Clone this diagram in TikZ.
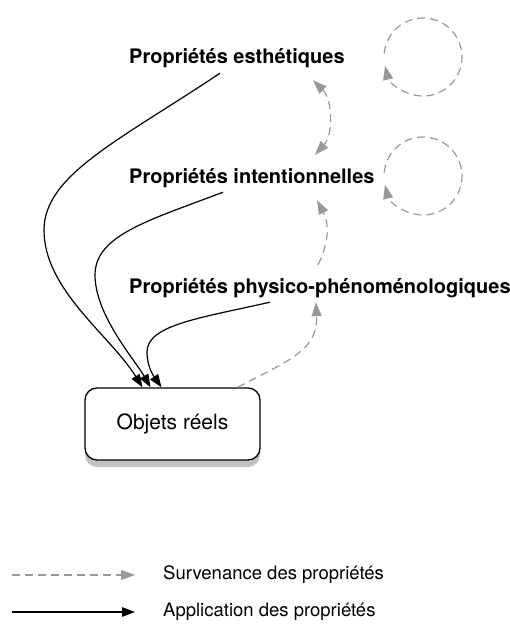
\documentclass[tikz,border=0pt]{standalone}
\usepackage{fontspec}
\setmainfont{TeX Gyre Heros}
\usetikzlibrary{positioning,arrows.meta,shadows}

\begin{document}
\begin{tikzpicture}[x=1pt,y=-1pt,
    propr/.style={anchor=base west,inner sep=2pt,text height=14pt,text depth=4pt,font=\fontsize{20}{22}\selectfont\bfseries},
    legtxt/.style={anchor=west,inner sep=2pt,font=\fontsize{18.5}{21}\selectfont},
    objbox/.style={draw,line width=1.3pt,rounded corners=12pt,fill=white,minimum width=175pt,minimum height=72pt,font=\fontsize{21}{23}\selectfont,
      drop shadow={shadow xshift=0pt,shadow yshift=-7pt,fill=black!40,opacity=.6}},
    appli/.style={line width=1.2pt,-{Triangle[length=13pt,width=9.5pt]}},
    surv/.style={line width=1.2pt,black!40,dash pattern=on 8pt off 5pt,-{Triangle[length=14pt,width=10pt]}}]
  \useasboundingbox (0,0) rectangle (510,628);
  \node[propr] (esth) at (127,64) {Propriétés esthétiques};
  \node[propr] (inten) at (127,184) {Propriétés intentionnelles};
  \node[propr] (phys) at (127,293) {Propriétés physico-phénoménologiques};
  \node[objbox] (obj) at (172.5,424) {Objets réels};
  \coordinate (esthloop) at (423,57);
  \coordinate (intenloop) at (423,176);
  % application des propriétés
  \draw[appli] ([xshift=93pt,yshift=-3pt]esth.south west) .. controls (120,140) and (44,175) .. (44,230)
    .. controls (44,290) and (110,335) .. ([xshift=-30pt]obj.north);
  \draw[appli] ([xshift=96pt,yshift=-2pt]inten.south west) .. controls (150,220) and (95,235) .. (95,275)
    .. controls (95,315) and (135,360) .. ([xshift=-22pt]obj.north);
  \draw[appli] ([xshift=143pt,yshift=-3pt]phys.south west) .. controls (200,318) and (147,325) .. (147,352)
    .. controls (147,368) and (155,378) .. ([xshift=-11pt]obj.north);
  % survenance
  \draw[surv] ([xshift=65pt]obj.north) .. controls (290,360) and (318,350) .. ([xshift=189pt,yshift=-3pt]phys.south west);
  \draw[surv] ([xshift=191pt,yshift=12pt]phys.north west) .. controls (328,245) and (330,225) .. ([xshift=190pt,yshift=-10pt]inten.south west);
  \draw[surv,{Triangle[length=14pt,width=10pt]}-{Triangle[length=14pt,width=10pt]}] ([xshift=186pt,yshift=-10pt]esth.south west)
    .. controls (333,100) and (333,135) .. ([xshift=188pt,yshift=13pt]inten.north west);
  \draw[surv] ([shift={(185:39)}]esthloop) arc[start angle=185,end angle=527,radius=39];
  \draw[surv] ([shift={(185:39)}]intenloop) arc[start angle=185,end angle=527,radius=39];
  % légende
  \node[legtxt] (legsurv) at (161,575) {Survenance des propriétés};
  \node[legtxt] (legappli) at (161,612) {Application des propriétés};
  \coordinate (legsurvstart) at (12,575);
  \coordinate (legapplistart) at (12,612);
  \draw[surv] (legsurvstart) -- ([xshift=-26pt]legsurv.west);
  \draw[appli] (legapplistart) -- ([xshift=-26pt]legappli.west);
\end{tikzpicture}
\end{document}
